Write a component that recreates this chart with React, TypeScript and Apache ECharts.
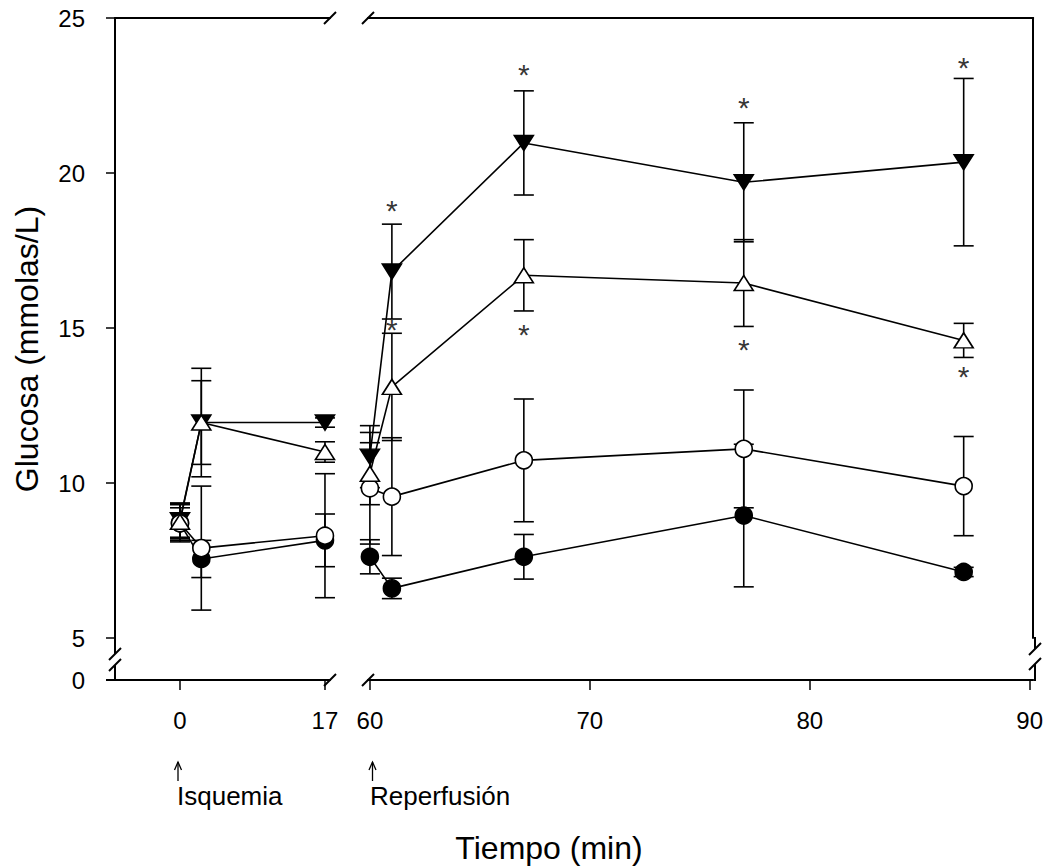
import React, { useEffect, useRef } from "react";
import * as echarts from "echarts";

// ---- Data (Tiempo in min, Glucosa in mmol/L; mean and error) ----
const xEarly = [0, 2.5, 17];
const xLate = [60, 61, 67, 77, 87];

const downTriEarly = [8.8, 11.95, 11.95];
const downTriEarlyErr = [0.55, 1.75, 0.15];
const upTriEarly = [8.75, 11.95, 11.0];
const upTriEarlyErr = [0.6, 1.35, 0.33];
const openCircEarly = [8.7, 7.9, 8.3];
const openCircEarlyErr = [0.5, 2.0, 2.0];
const fillCircEarly = [8.7, 7.55, 8.15];
const fillCircEarlyErr = [0.6, 0.6, 0.85];

const downTriLate = [10.85, 16.82, 20.97, 19.7, 20.35];
const downTriLateErr = [1.0, 1.53, 1.68, 1.92, 2.7];
const upTriLate = [10.3, 13.1, 16.7, 16.45, 14.6];
const upTriLateErr = [1.0, 1.73, 1.15, 1.4, 0.55];
const openCircLate = [9.83, 9.56, 10.73, 11.1, 9.9];
const openCircLateErr = [1.8, 1.9, 1.98, 1.9, 1.6];
const fillCircLate = [7.62, 6.6, 7.62, 8.95, 7.13];
const fillCircLateErr = [0.55, 0.33, 0.72, 2.3, 0.15];

// significance marks (*)
const starX = [61, 61, 67, 67, 77, 77, 87, 87];
const starY = [18.9, 15.04, 23.26, 14.9, 22.2, 14.39, 23.5, 13.52];

// axis ticks
const earlyTicks = [0, 17];
const lateTicks = [60, 70, 80, 90];
const yTicks = [5, 10, 15, 20, 25];

const FONT = "'Liberation Sans', Arial, sans-serif";

function errorSeries(xs: number[], m: number[], e: number[], gi: number) {
  return {
    type: "custom",
    xAxisIndex: gi,
    yAxisIndex: gi,
    silent: true,
    clip: false,
    z: 1,
    encode: { x: 0, y: [1, 2] },
    data: xs.map((x, i) => [x, m[i] - e[i], m[i] + e[i]]),
    renderItem: (params: any, api: any) => {
      const x = api.value(0);
      const lo = api.coord([x, api.value(1)]);
      const hi = api.coord([x, api.value(2)]);
      const w = 10;
      const style = { stroke: "#000", lineWidth: 1.6, fill: "none" };
      return {
        type: "group",
        children: [
          { type: "line", shape: { x1: lo[0], y1: lo[1], x2: hi[0], y2: hi[1] }, style },
          { type: "line", shape: { x1: lo[0] - w, y1: lo[1], x2: lo[0] + w, y2: lo[1] }, style },
          { type: "line", shape: { x1: hi[0] - w, y1: hi[1], x2: hi[0] + w, y2: hi[1] }, style },
        ],
      };
    },
  };
}

function lineSeries(xs: number[], ys: number[], gi: number) {
  return {
    type: "line",
    xAxisIndex: gi,
    yAxisIndex: gi,
    data: xs.map((x, i) => [x, ys[i]]),
    showSymbol: false,
    symbol: "none",
    lineStyle: { color: "#000", width: 1.6 },
    silent: true,
    clip: false,
    z: 2,
  };
}

function markerSeries(
  xs: number[],
  ys: number[],
  gi: number,
  symbol: string,
  rotate: number,
  fill: string,
  size: any,
  z: number
) {
  return {
    type: "scatter",
    xAxisIndex: gi,
    yAxisIndex: gi,
    data: xs.map((x, i) => [x, ys[i]]),
    symbol,
    symbolRotate: rotate,
    symbolSize: size,
    itemStyle: { color: fill, borderColor: "#000", borderWidth: 1.6, opacity: 1 },
    silent: true,
    clip: false,
    z,
  };
}

function groupSeries(
  xs: number[],
  gi: number,
  dT: number[], dTe: number[],
  uT: number[], uTe: number[],
  oC: number[], oCe: number[],
  fC: number[], fCe: number[]
) {
  return [
    errorSeries(xs, fC, fCe, gi),
    errorSeries(xs, dT, dTe, gi),
    errorSeries(xs, oC, oCe, gi),
    errorSeries(xs, uT, uTe, gi),
    lineSeries(xs, fC, gi),
    lineSeries(xs, dT, gi),
    lineSeries(xs, oC, gi),
    lineSeries(xs, uT, gi),
    markerSeries(xs, fC, gi, "circle", 0, "#000", 17, 3),
    markerSeries(xs, dT, gi, "triangle", 180, "#000", [19, 15], 4),
    markerSeries(xs, oC, gi, "circle", 0, "#fff", 17, 5),
    markerSeries(xs, uT, gi, "triangle", 0, "#fff", [19, 15], 6),
  ];
}

const lineStyleAxis = { color: "#000", width: 2 };
const blk = { stroke: "#000", lineWidth: 2 };
const thin = { stroke: "#000", lineWidth: 1.3 };

function slash(cx: number, cy: number) {
  return {
    type: "line",
    shape: { x1: cx - 6, y1: cy + 6, x2: cx + 6, y2: cy - 6 },
    style: blk,
  };
}

export default function App() {
  const ref = useRef<HTMLDivElement>(null);
  useEffect(() => {
    document.body.style.margin = "0";
    const chart = echarts.init(ref.current!, null, { renderer: "svg" });

    const xBottom = (gi: number, min: number, max: number, ticks: number[]) => ({
      type: "value",
      gridIndex: gi,
      position: "bottom",
      offset: 42,
      min,
      max,
      axisLine: { show: true, onZero: false, lineStyle: lineStyleAxis },
      axisTick: { show: true, inside: false, length: 10, customValues: ticks, lineStyle: { color: "#000", width: 1.5 } },
      axisLabel: { show: true, customValues: ticks, margin: 28, fontSize: 24, color: "#000", fontFamily: FONT },
      splitLine: { show: false },
    });
    const xTop = (gi: number, min: number, max: number) => ({
      type: "value",
      gridIndex: gi,
      position: "top",
      min,
      max,
      axisLine: { show: true, onZero: false, lineStyle: lineStyleAxis },
      axisTick: { show: false },
      axisLabel: { show: false },
      splitLine: { show: false },
    });

    const option: any = {
      animation: false,
      backgroundColor: "#fff",
      grid: [
        { left: 115, top: 18, width: 215, height: 620 },
        { left: 368, top: 18, width: 667, height: 620 },
      ],
      xAxis: [
        xBottom(0, -7.62, 17.59, earlyTicks),
        xBottom(1, 59.914, 90.16, lateTicks),
        xTop(0, -7.62, 17.59),
        xTop(1, 59.914, 90.16),
      ],
      yAxis: [
        {
          type: "value",
          gridIndex: 0,
          position: "left",
          min: 5,
          max: 25,
          interval: 5,
          axisLine: { show: true, onZero: false, lineStyle: lineStyleAxis },
          axisTick: { show: true, inside: false, length: 9, customValues: yTicks, lineStyle: { color: "#000", width: 1.5 } },
          axisLabel: { show: true, customValues: yTicks, margin: 30, fontSize: 24, color: "#000", fontFamily: FONT },
          splitLine: { show: false },
        },
        {
          type: "value",
          gridIndex: 1,
          position: "left",
          min: 5,
          max: 25,
          interval: 5,
          axisLine: { show: false },
          axisTick: { show: false },
          axisLabel: { show: false },
          splitLine: { show: false },
        },
        {
          type: "value",
          gridIndex: 1,
          position: "right",
          min: 5,
          max: 25,
          interval: 5,
          axisLine: { show: true, onZero: false, lineStyle: lineStyleAxis },
          axisTick: { show: false },
          axisLabel: { show: false },
          splitLine: { show: false },
        },
      ],
      series: [
        ...groupSeries(
          xEarly, 0,
          downTriEarly, downTriEarlyErr,
          upTriEarly, upTriEarlyErr,
          openCircEarly, openCircEarlyErr,
          fillCircEarly, fillCircEarlyErr
        ),
        ...groupSeries(
          xLate, 1,
          downTriLate, downTriLateErr,
          upTriLate, upTriLateErr,
          openCircLate, openCircLateErr,
          fillCircLate, fillCircLateErr
        ),
        {
          type: "scatter",
          xAxisIndex: 1,
          yAxisIndex: 1,
          data: starX.map((x, i) => [x, starY[i]]),
          symbol: "circle",
          symbolSize: 0.1,
          itemStyle: { color: "transparent" },
          silent: true,
          clip: false,
          z: 7,
          label: {
            show: true,
            position: "inside",
            formatter: "*",
            fontSize: 30,
            color: "#000",
            fontFamily: FONT,
            offset: [0, 3],
          },
        },
      ],
      graphic: [
        // broken y axis (left)
        { type: "line", shape: { x1: 115, y1: 637, x2: 115, y2: 654 }, style: blk },
        slash(115, 654),
        slash(115, 665),
        { type: "line", shape: { x1: 115, y1: 665, x2: 115, y2: 681 }, style: blk },
        { type: "line", shape: { x1: 106, y1: 680, x2: 115, y2: 680 }, style: blk },
        {
          type: "text",
          style: { text: "0", x: 85, y: 680, align: "right", verticalAlign: "middle", fill: "#000", font: "24px " + FONT },
        },
        // broken right border
        { type: "line", shape: { x1: 1035, y1: 637, x2: 1035, y2: 649 }, style: blk },
        slash(1035, 649),
        slash(1035, 664),
        { type: "line", shape: { x1: 1035, y1: 664, x2: 1035, y2: 681 }, style: blk },
        // x breaks
        slash(330, 18),
        slash(368, 18),
        slash(330, 680),
        slash(368, 680),
        // annotations
        { type: "line", shape: { x1: 178, y1: 762, x2: 178, y2: 781 }, style: thin },
        { type: "polyline", shape: { points: [[174.5, 770], [178, 762], [181.5, 770]] }, style: { ...thin, fill: "none" } },
        { type: "line", shape: { x1: 372.5, y1: 762, x2: 372.5, y2: 781 }, style: thin },
        { type: "polyline", shape: { points: [[369, 770], [372.5, 762], [376, 770]] }, style: { ...thin, fill: "none" } },
        {
          type: "text",
          style: { text: "Isquemia", x: 177, y: 796, align: "left", verticalAlign: "middle", fill: "#000", font: "26px " + FONT },
        },
        {
          type: "text",
          style: { text: "Reperfusión", x: 370, y: 796, align: "left", verticalAlign: "middle", fill: "#000", font: "26px " + FONT },
        },
        // axis titles
        {
          type: "text",
          style: { text: "Tiempo (min)", x: 549, y: 848, align: "center", verticalAlign: "middle", fill: "#000", font: "32px " + FONT },
        },
        {
          type: "text",
          x: 27,
          y: 349,
          rotation: Math.PI / 2,
          style: { text: "Glucosa (mmolas/L)", x: 0, y: 0, align: "center", verticalAlign: "middle", fill: "#000", font: "32px " + FONT },
        },
      ],
    };
    chart.setOption(option);
    return () => chart.dispose();
  }, []);
  return <div ref={ref} style={{ width: 1046, height: 866 }} />;
}
